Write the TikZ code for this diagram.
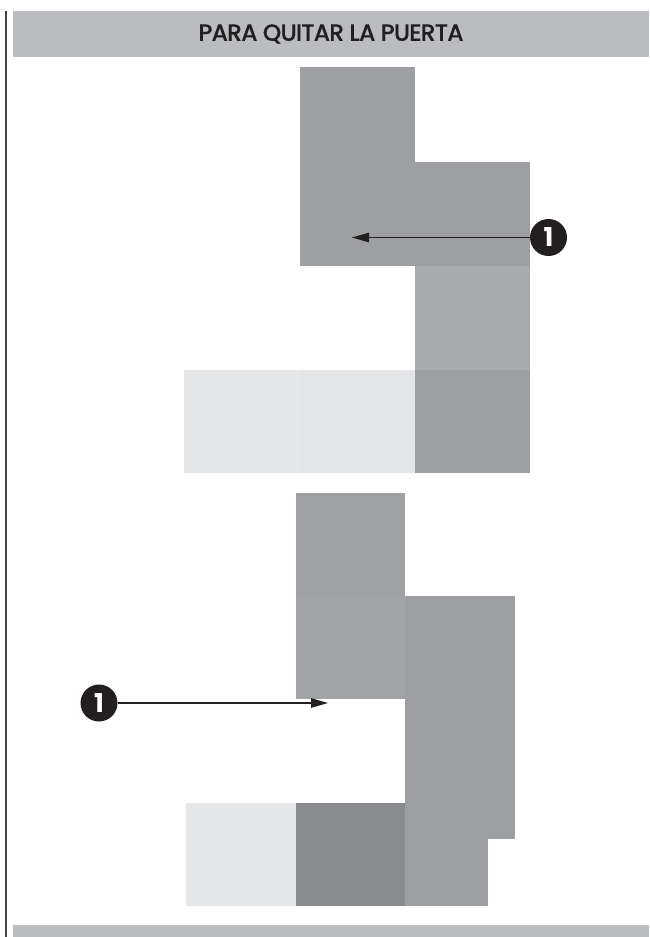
\documentclass[tikz,border=0pt]{standalone}
\usepackage{xcolor}
\usepackage{fontspec}
\setmainfont{Poppins}
\newfontfamily\titlefont[LetterSpace=-3.5,FakeBold=0.25]{Poppins Medium}
\usetikzlibrary{arrows.meta,positioning,calc}
\definecolor{bargray}{HTML}{BBBCBF}
\definecolor{doorgray}{HTML}{9E9FA2}
\definecolor{midgray}{HTML}{A9AAAD}
\definecolor{palegray}{HTML}{E6E7E8}
\definecolor{deepgray}{HTML}{8A8B8E}
\definecolor{inkblack}{HTML}{231F20}

\begin{document}
\begin{tikzpicture}[
  x=1pt, y=-1pt,
  bar/.style={fill=bargray, draw=none, inner sep=0pt, outer sep=0pt, anchor=north west, minimum width=636pt},
  marker/.style={circle, fill=inkblack, minimum size=37pt, inner sep=0pt, outer sep=0pt, text=white, font=\fontsize{26}{26}\selectfont\bfseries},
  arr/.style={-{Triangle[length=17pt,width=9.5pt]}, line width=1.2pt, draw=inkblack}
]
\useasboundingbox (0,0) rectangle (649,937);
\draw[line width=1.3pt, draw=inkblack!85] (6,11) -- (6,937);
\node[bar, minimum height=46pt, text=inkblack, font=\fontsize{23.5}{24}\titlefont] (titlebar) at (13,11) {PARA QUITAR LA PUERTA};
\node[bar, minimum height=12pt] (footbar) at (13,925) {};
\fill[doorgray] (300,67) rectangle (415,266);
\fill[doorgray] (415,162) rectangle (530,266);
\fill[midgray] (415,266) rectangle (530,370);
\fill[doorgray] (415,370) rectangle (530,473);
\fill[palegray] (184,370) rectangle (300,473);
\fill[palegray!97!doorgray] (300,370) rectangle (415,473);
\fill[doorgray!98!white] (296,493) rectangle (405,596);
\fill[doorgray!96!white] (296,596) rectangle (405,699);
\fill[doorgray] (405,596) rectangle (515,839);
\fill[doorgray] (405,839) rectangle (488,906);
\fill[palegray] (186,803) rectangle (296,906);
\fill[deepgray] (296,803) rectangle (405,906);
\node[marker] (markerA) at (548.5,237.5) {1};
\node[marker] (markerB) at (99,703) {1};
\coordinate (tipA) at (352,237.5);
\coordinate (tipB) at (328,703);
\draw[arr] (markerA) -- (tipA);
\draw[arr] (markerB) -- (tipB);
\end{tikzpicture}
\end{document}
